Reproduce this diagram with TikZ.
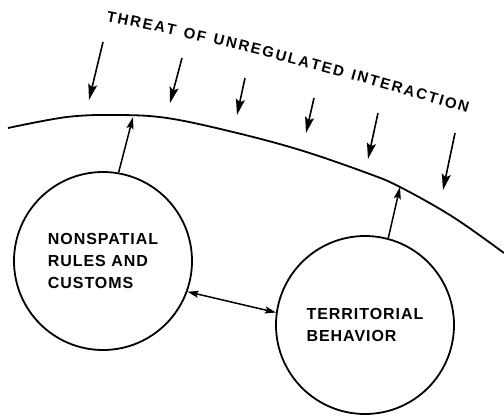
\documentclass[tikz,border=0pt]{standalone}
\usepackage{fontspec}
\setmainfont{Liberation Sans}
\newfontfamily\lblfont[LetterSpace=6]{Liberation Sans}
\usetikzlibrary{arrows.meta,decorations.text}
\begin{document}
\begin{tikzpicture}[x=1pt,y=-1pt,
  circ/.style={circle,draw,line width=1.8pt,minimum size=178pt,inner sep=0pt,align=left,
    font=\lblfont\fontsize{16}{22}\selectfont\bfseries},
  thr/.style={line width=1.6pt,-{Stealth[length=16pt,width=9pt,inset=3pt]}},
  link/.style={line width=1.5pt,-{Stealth[length=12pt,width=7pt,inset=2pt]}},
  dlink/.style={line width=1.5pt,{Stealth[length=11pt,width=7pt,inset=2pt]}-{Stealth[length=11pt,width=7pt,inset=2pt]}},
  boundary/.style={line width=1.8pt}]
\useasboundingbox (0,0) rectangle (504,416);

% boundary curve
\draw[boundary] plot[smooth,tension=0.6] coordinates {(8,128) (67,117) (117,115) (167,118) (233,132) (300,150) (367,173) (400,187) (453,217) (504,253)};
\coordinate (t1) at (133,117);
\coordinate (t2) at (400,187);

% title
\path[decorate,decoration={text along path,
  text={|\fontsize{15}{17}\selectfont\bfseries|THREAT OF UNREGULATED INTERACTION},
  text align={fit to path}}]
  (106,21) .. controls (230,45) and (350,78) .. (467,113);

% threat arrows
\foreach \i/\xa/\ya/\xb/\yb in {1/103/42/89/100, 2/182/58/170/103, 3/245/78/237/115, 4/314/98/306/133, 5/378/113/368/159, 6/455/133/443/190}{
  \coordinate (s\i) at (\xa,\ya);
  \coordinate (e\i) at (\xb,\yb);
  \draw[thr] (s\i) -- (e\i);
}

% circles
\node[circ] (c1) at (103,261) {NONSPATIAL\\RULES AND\\CUSTOMS};
\node[circ] (c2) at (365,325) {TERRITORIAL\\BEHAVIOR};

% connectors
\draw[link] (c1.80) -- (t1);
\draw[link] (c2.75) -- (t2);
\draw[dlink] (c1.-20) -- (c2.172);
\end{tikzpicture}
\end{document}
